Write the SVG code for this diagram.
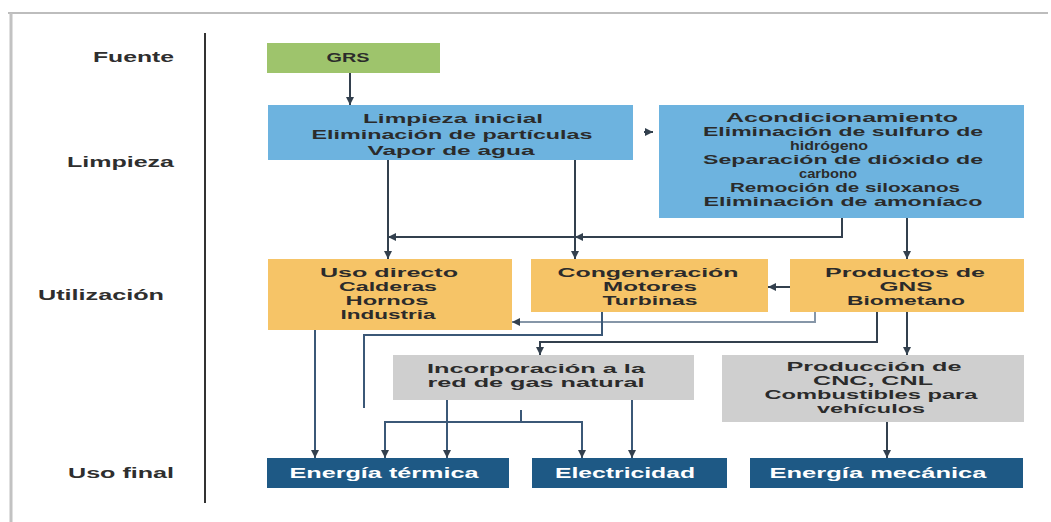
<svg xmlns="http://www.w3.org/2000/svg" width="1051" height="522" viewBox="0 0 1051 522">
<style>
text{font-family:"Liberation Sans",Arial,sans-serif;font-weight:bold;font-size:13px;fill:#2b2b2b;text-anchor:middle}
.lbl{text-anchor:end;fill:#2e2e2e;font-size:14px}
.w{fill:#ffffff;font-size:14px}
.grn{fill:#9ec46c}
.blu{fill:#6db3df}
.org{fill:#f6c467}
.gry{fill:#cfcfcf}
.dbl{fill:#1e5985}
.c{fill:none;stroke:#33404e;stroke-width:2}
.cl{fill:none;stroke:#8696a8;stroke-width:2}
.cb{fill:none;stroke:#3b5877;stroke-width:2}
</style>
<defs>
<marker id="ah" markerUnits="userSpaceOnUse" markerWidth="10" markerHeight="10" refX="8" refY="4" orient="auto"><path d="M0,0 L8,4 L0,8 z" fill="#33404e"/></marker>
</defs>
<rect x="0" y="0" width="1051" height="522" fill="#ffffff"/>
<g id="frame">
<line x1="8" y1="13" x2="1048" y2="13" stroke="#bdbdbd" stroke-width="2"/>
<line x1="11" y1="13" x2="11" y2="522" stroke="#c2c2c2" stroke-width="3"/>
<line x1="205" y1="33" x2="205" y2="503" stroke="#333333" stroke-width="2"/>
</g>
<g id="labels">
<text class="lbl" x="174" y="62" textLength="81" lengthAdjust="spacingAndGlyphs">Fuente</text>
<text class="lbl" x="174" y="167" textLength="107" lengthAdjust="spacingAndGlyphs">Limpieza</text>
<text class="lbl" x="164" y="300" textLength="126" lengthAdjust="spacingAndGlyphs">Utilización</text>
<text class="lbl" x="174" y="478" textLength="106" lengthAdjust="spacingAndGlyphs">Uso final</text>
</g>
<g id="connectors">
<path class="c" d="M350,73 V105" marker-end="url(#ah)"/>
<path class="c" d="M644,132 H653" marker-end="url(#ah)"/>
<path class="c" d="M388,160 V259" marker-end="url(#ah)"/>
<path class="c" d="M575,160 V259" marker-end="url(#ah)"/>
<path class="c" d="M842,218 V237 H575" marker-end="url(#ah)"/>
<path class="c" d="M575,237 H388" marker-end="url(#ah)"/>
<path class="c" d="M907,218 V259" marker-end="url(#ah)"/>
<path class="c" d="M790,287 H768" marker-end="url(#ah)"/>
<path class="cl" d="M815,312 V322 H512" marker-end="url(#ah)"/>
<path class="cb" d="M602,312 V335 H364 V408"/>
<path class="c" d="M877,312 V342 H540 V355" marker-end="url(#ah)"/>
<path class="c" d="M907,312 V355" marker-end="url(#ah)"/>
<path class="cb" d="M315,330 V458" marker-end="url(#ah)"/>
<path class="cb" d="M447,400 V458" marker-end="url(#ah)"/>
<path class="cb" d="M632,400 V458" marker-end="url(#ah)"/>
<path class="cb" d="M521,410 V422"/>
<path class="cb" d="M385,458 V422 H582 V458" marker-end="url(#ah)"/>
<path class="cb" d="M385,423 V458" marker-end="url(#ah)"/>
<path class="c" d="M887,422 V458" marker-end="url(#ah)"/>
</g>
<g id="grs">
<rect class="grn" x="267" y="43" width="173" height="30"/>
<text x="348" y="62" textLength="43" lengthAdjust="spacingAndGlyphs">GRS</text>
</g>
<g id="limpieza-inicial">
<rect class="blu" x="268" y="105" width="365" height="55"/>
<text x="453" y="123" textLength="180" lengthAdjust="spacingAndGlyphs">Limpieza inicial</text>
<text x="452" y="139" textLength="281" lengthAdjust="spacingAndGlyphs">Eliminación de partículas</text>
<text x="451" y="155" textLength="167" lengthAdjust="spacingAndGlyphs">Vapor de agua</text>
</g>
<g id="acondicionamiento">
<rect class="blu" x="659" y="105" width="365" height="113"/>
<text x="842" y="122" textLength="232" lengthAdjust="spacingAndGlyphs">Acondicionamiento</text>
<text x="843" y="136" textLength="280" lengthAdjust="spacingAndGlyphs">Eliminación de sulfuro de</text>
<text x="829" y="150" textLength="78" lengthAdjust="spacingAndGlyphs">hidrógeno</text>
<text x="843" y="164" textLength="280" lengthAdjust="spacingAndGlyphs">Separación de dióxido de</text>
<text x="828" y="178" textLength="58" lengthAdjust="spacingAndGlyphs">carbono</text>
<text x="845" y="192" textLength="230" lengthAdjust="spacingAndGlyphs">Remoción de siloxanos</text>
<text x="843" y="206" textLength="279" lengthAdjust="spacingAndGlyphs">Eliminación de amoníaco</text>
</g>
<g id="uso-directo">
<rect class="org" x="268" y="259" width="244" height="71"/>
<text x="389" y="277" textLength="138" lengthAdjust="spacingAndGlyphs">Uso directo</text>
<text x="388" y="291" textLength="98" lengthAdjust="spacingAndGlyphs">Calderas</text>
<text x="387" y="305" textLength="83" lengthAdjust="spacingAndGlyphs">Hornos</text>
<text x="388" y="319" textLength="95" lengthAdjust="spacingAndGlyphs">Industria</text>
</g>
<g id="congeneracion">
<rect class="org" x="531" y="259" width="237" height="53"/>
<text x="648" y="277" textLength="181" lengthAdjust="spacingAndGlyphs">Congeneración</text>
<text x="650" y="291" textLength="94" lengthAdjust="spacingAndGlyphs">Motores</text>
<text x="650" y="305" textLength="95" lengthAdjust="spacingAndGlyphs">Turbinas</text>
</g>
<g id="productos-gns">
<rect class="org" x="790" y="259" width="234" height="53"/>
<text x="905" y="277" textLength="160" lengthAdjust="spacingAndGlyphs">Productos de</text>
<text x="906" y="291" textLength="53" lengthAdjust="spacingAndGlyphs">GNS</text>
<text x="906" y="305" textLength="118" lengthAdjust="spacingAndGlyphs">Biometano</text>
</g>
<g id="incorporacion">
<rect class="gry" x="393" y="355" width="301" height="45"/>
<text x="536" y="373" textLength="218" lengthAdjust="spacingAndGlyphs">Incorporación a la</text>
<text x="536" y="387" textLength="217" lengthAdjust="spacingAndGlyphs">red de gas natural</text>
</g>
<g id="produccion">
<rect class="gry" x="722" y="355" width="302" height="67"/>
<text x="874" y="371" textLength="175" lengthAdjust="spacingAndGlyphs">Producción de</text>
<text x="873" y="385" textLength="120" lengthAdjust="spacingAndGlyphs">CNC, CNL</text>
<text x="871" y="399" textLength="213" lengthAdjust="spacingAndGlyphs">Combustibles para</text>
<text x="871" y="413" textLength="108" lengthAdjust="spacingAndGlyphs">vehículos</text>
</g>
<g id="energia-termica">
<rect class="dbl" x="267" y="458" width="242" height="30"/>
<text class="w" x="384" y="478" textLength="189" lengthAdjust="spacingAndGlyphs">Energía térmica</text>
</g>
<g id="electricidad">
<rect class="dbl" x="532" y="458" width="195" height="30"/>
<text class="w" x="625" y="478" textLength="140" lengthAdjust="spacingAndGlyphs">Electricidad</text>
</g>
<g id="energia-mecanica">
<rect class="dbl" x="750" y="458" width="273" height="30"/>
<text class="w" x="878" y="478" textLength="217" lengthAdjust="spacingAndGlyphs">Energía mecánica</text>
</g>
</svg>
